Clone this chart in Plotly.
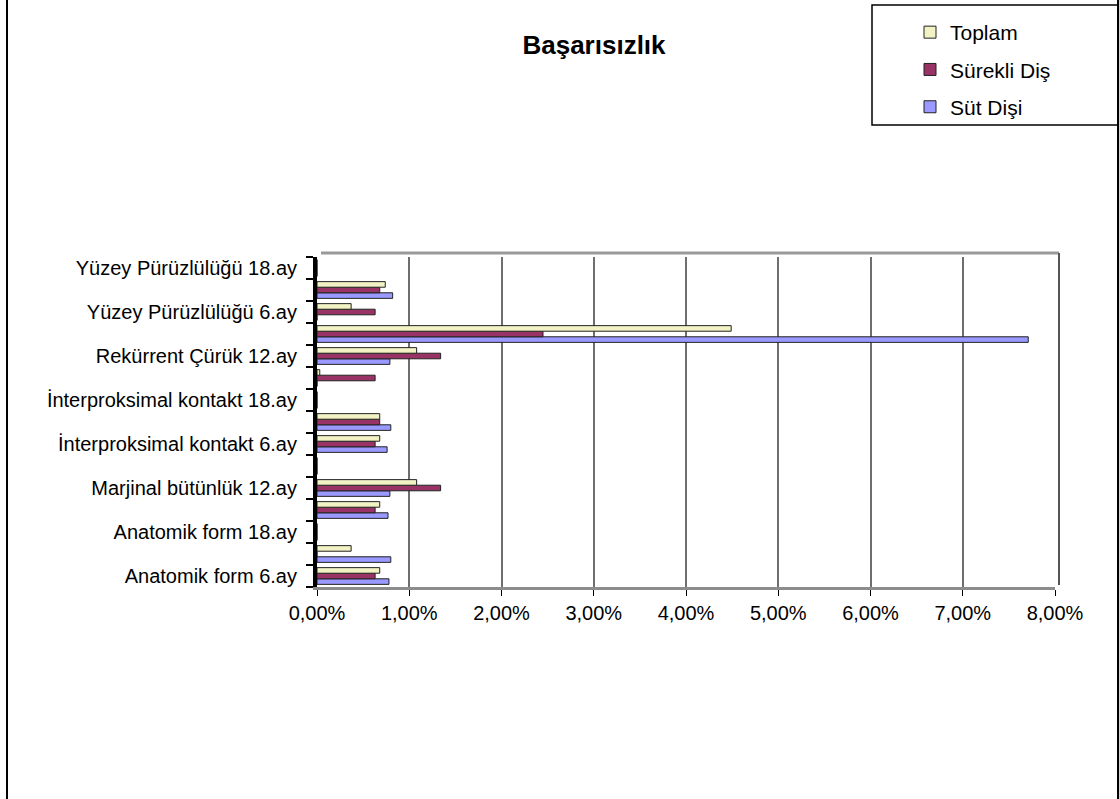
import plotly.graph_objects as go

# Categories (bottom to top) and failure rates per series, in fractions
categories = [
    "Anatomik form 6.ay", "Anatomik form 12.ay", "Anatomik form 18.ay",
    "Marjinal bütünlük 6.ay", "Marjinal bütünlük 12.ay", "Marjinal bütünlük 18.ay",
    "İnterproksimal kontakt 6.ay", "İnterproksimal kontakt 12.ay", "İnterproksimal kontakt 18.ay",
    "Rekürrent Çürük 6.ay", "Rekürrent Çürük 12.ay", "Rekürrent Çürük 18.ay",
    "Yüzey Pürüzlülüğü 6.ay", "Yüzey Pürüzlülüğü 12.ay", "Yüzey Pürüzlülüğü 18.ay",
]
sut_disi = [0.0078, 0.0080, 0.0, 0.0077, 0.0079, 0.0, 0.0076, 0.0080, 0.0,
            0.0, 0.0079, 0.0771, 0.0, 0.0082, 0.0]
surekli_dis = [0.0063, 0.0, 0.0, 0.0063, 0.0134, 0.0, 0.0063, 0.0068, 0.0,
               0.0063, 0.0134, 0.0245, 0.0063, 0.0068, 0.0]
toplam = [0.0068, 0.0037, 0.0, 0.0068, 0.0108, 0.0, 0.0068, 0.0068, 0.0,
          0.0003, 0.0108, 0.0449, 0.0037, 0.0074, 0.0]
x_ticks = [0, 0.01, 0.02, 0.03, 0.04, 0.05, 0.06, 0.07, 0.08]

W, H = 1119, 799
L, R, T, B = 317, 1055, 257, 587  # plot area in pixels

def px(x):
    return (x - L) / (R - L)

def py(y):
    return (B - y) / (B - T)

FONT = "Liberation Sans, Arial, sans-serif"
positions = list(range(len(categories)))

# (name, values, colour, legend rank) - first trace sits lowest in each group
series = [
    ("Süt Dişi", sut_disi, "#9999FF", 3),
    ("Sürekli Diş", surekli_dis, "#993366", 2),
    ("Toplam", toplam, "#F2F2C4", 1),
]

fig = go.Figure()
for name, vals, color, rank in series:
    fig.add_trace(go.Bar(
        y=positions, x=vals, name=name, orientation="h",
        legendgroup=name, legendrank=rank,
        marker=dict(color=color, line=dict(color="#222222", width=1)),
    ))

fig.update_layout(
    width=W, height=H,
    margin=dict(l=L, r=W - R, t=T, b=H - B),
    paper_bgcolor="white", plot_bgcolor="white",
    barmode="group", bargap=0.24, bargroupgap=0.0,
    separators=",.",
    font=dict(family=FONT, color="black"),
    title=dict(text="<b>Başarısızlık</b>", x=594 / W, xanchor="center",
               y=1 - 45 / H, yanchor="middle", xref="container", yref="container",
               font=dict(size=26, family=FONT, color="black")),
    showlegend=True,
    legend=dict(x=px(910), y=py(12), xanchor="left", yanchor="top",
                xref="paper", yref="paper",
                traceorder="grouped", tracegroupgap=7,
                bgcolor="rgba(0,0,0,0)", borderwidth=0,
                font=dict(size=21, family=FONT, color="black"),
                itemwidth=30),
    xaxis=dict(range=[0, 0.08], tickvals=x_ticks, tickformat=".2%",
               showgrid=True, gridcolor="#6E6E6E", gridwidth=2,
               zeroline=False, showline=True, linecolor="#8C8C8C", linewidth=3,
               ticks="outside", ticklen=6, tickcolor="black", tickwidth=1,
               tickfont=dict(size=20, family=FONT, color="black"),
               fixedrange=True),
    yaxis=dict(range=[-0.5, len(categories) - 0.5],
               tickvals=positions[0::2], ticktext=categories[0::2],
               ticks="", showgrid=False, zeroline=False,
               showline=True, linecolor="black", linewidth=4,
               ticklabelstandoff=12,
               minor=dict(ticks="outside", ticklen=7, tickcolor="black", tickwidth=2,
                          tickvals=[p - 0.5 for p in positions] + [positions[-1] + 0.5]),
               tickfont=dict(size=20, family=FONT, color="black"),
               fixedrange=True),
)

shapes = [
    # back wall top and right edges
    dict(type="line", xref="paper", yref="paper", x0=px(321), x1=px(1059),
         y0=py(253), y1=py(253), line=dict(color="#9A9A9A", width=3)),
    dict(type="line", xref="paper", yref="paper", x0=px(1059), x1=px(1059),
         y0=py(253), y1=py(585), line=dict(color="#555555", width=2)),
    # legend frame
    dict(type="rect", xref="paper", yref="paper", x0=px(872), x1=px(1119),
         y0=py(125), y1=py(5), line=dict(color="black", width=1.5)),
    # outer chart frame
    dict(type="line", xref="paper", yref="paper", x0=px(7), x1=px(7),
         y0=py(0), y1=py(799), line=dict(color="black", width=2)),
    dict(type="line", xref="paper", yref="paper", x0=px(1118), x1=px(1118),
         y0=py(0), y1=py(799), line=dict(color="black", width=2)),
]
fig.update_layout(shapes=shapes)

fig.write_html("out.html")
